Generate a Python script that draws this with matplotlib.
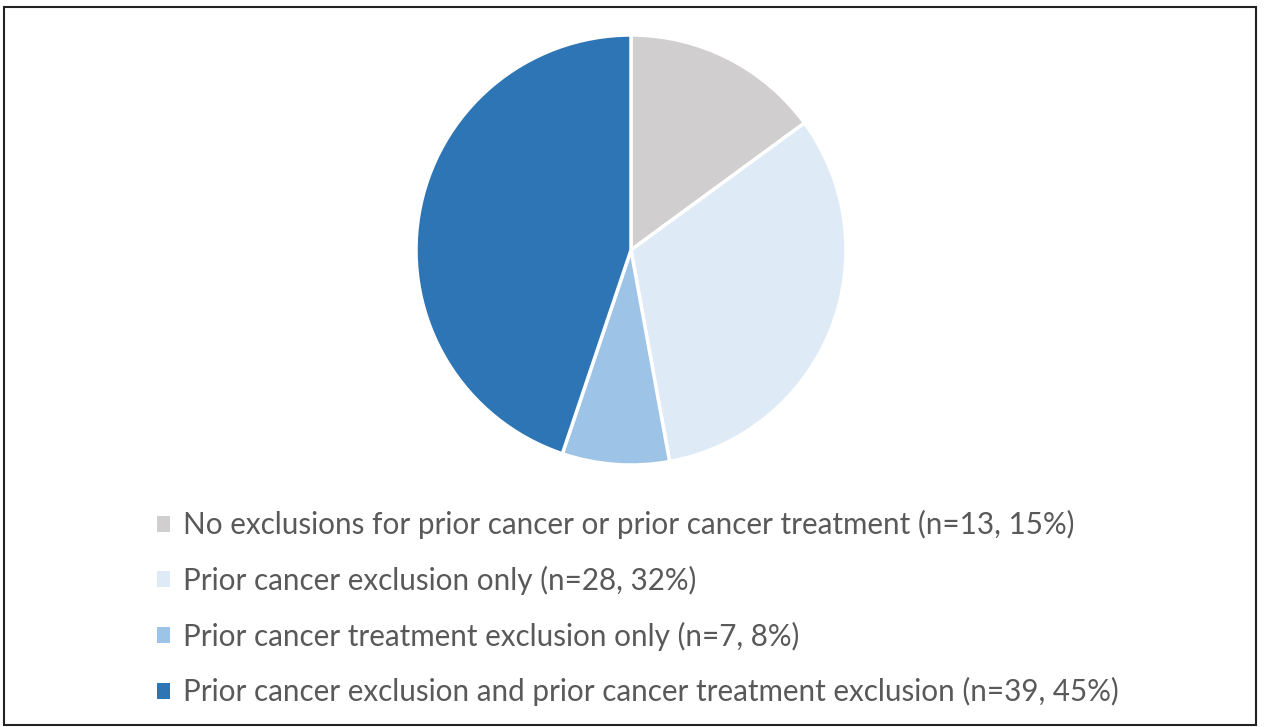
import matplotlib.pyplot as plt
from matplotlib.patches import Patch, Rectangle

# dados
labels = [
    'No exclusions for prior cancer or prior cancer treatment (n=13, 15%)',
    'Prior cancer exclusion only (n=28, 32%)',
    'Prior cancer treatment exclusion only (n=7, 8%)',
    'Prior cancer exclusion and prior cancer treatment exclusion (n=39, 45%)',
]
counts = [13, 28, 7, 39]
colors = ['#D0CECE', '#DEEAF6', '#9DC3E6', '#2E75B6']

W, H = 1264, 727
fig = plt.figure(figsize=(W / 100, H / 100), dpi=100)
plt.rcParams['font.family'] = ['Lato', 'DejaVu Sans']

# pizza
cx, cy, r = 631, 250, 215
ax = fig.add_axes([(cx - r) / W, 1 - (cy + r) / H, 2 * r / W, 2 * r / H])
ax.pie(counts, colors=colors, startangle=90, counterclock=False,
       wedgeprops=dict(edgecolor='white', linewidth=2.5))
ax.set_xlim(-1, 1)
ax.set_ylim(-1, 1)
ax.set_aspect('equal')
ax.axis('off')

# legenda
handles = [Patch(facecolor=c, edgecolor='none') for c in colors]
fig.legend(handles, labels, loc='upper left',
           bbox_to_anchor=(157 / W, 1 - 510 / H),
           frameon=False, fontsize=21.3, labelcolor='#595959',
           borderpad=0, borderaxespad=0,
           handlelength=0.45, handleheight=0.45, handletextpad=0.42,
           labelspacing=0.9)

# moldura
fig.patches.append(Rectangle((4 / W, 2 / H), 1252 / W, 1 - 9 / H,
                             transform=fig.transFigure, fill=False,
                             edgecolor='#222222', linewidth=1.5))

fig.savefig('out.png', dpi=100)
